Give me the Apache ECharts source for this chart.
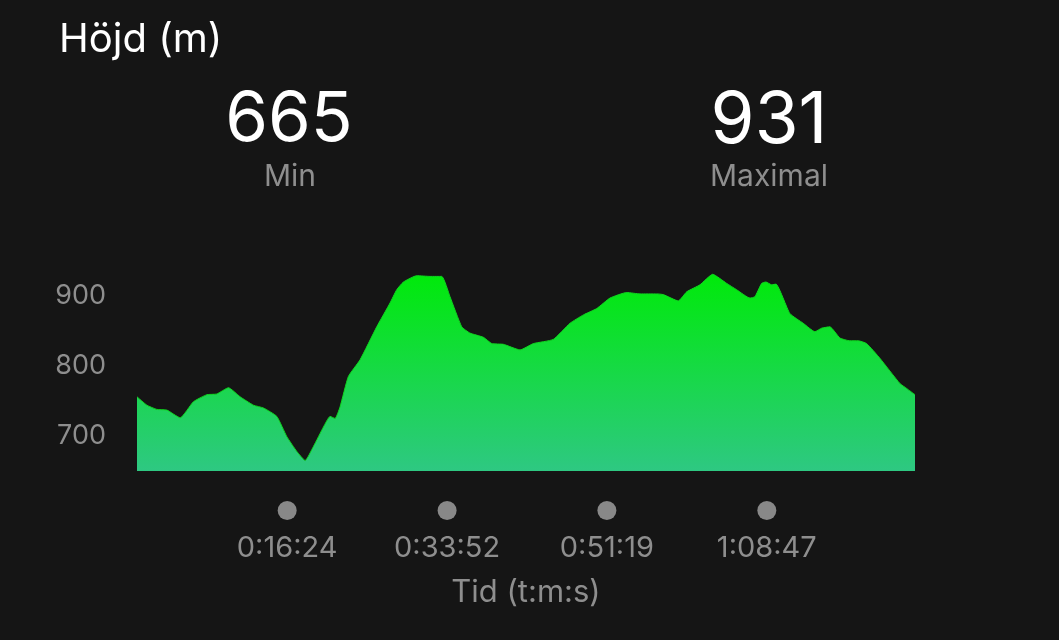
<!DOCTYPE html>
<html>
<head>
<meta charset="utf-8">
<script src="https://cdn.jsdelivr.net/npm/echarts@6/dist/echarts.min.js"></script>
<style>
html,body{margin:0;padding:0;background:#151515;}
#c{width:1059px;height:640px;}
</style>
</head>
<body>
<div id="c"></div>
<script>
// time in seconds from start
var timeSec = [0,65,130,196,283,370,458,523,599,676,763,829,916,982,1047,1102,1156,1222,1265,1298,1331,1385,1462,1571,1658,1702,1746,1833,1920,1997,2051,2128,2182,2270,2325,2401,2510,2597,2728,2837,2925,3012,3099,3209,3296,3405,3449,3547,3602,3689,3772,3864,3929,4017,4049,4093,4121,4159,4187,4278,4366,4442,4486,4540,4606,4671,4726,4781,4868,4999,5043,5098];
// elevation in metres
var elevation = [756,744,738,737,726,749,759,760,769,756,744,740,728,699,678,665,685,713,728,725,742,785,809,856,890,909,920,929,928,928,899,856,847,841,832,831,823,832,838,861,873,882,897,905,903,903,902,893,906,916,931,918,909,897,899,918,920,916,917,875,861,849,854,856,840,836,836,832,811,775,768,759];
var xTicks = [984,2032,3079,4127];
var yTicks = [700,800,900];
var titleText = 'Höjd (m)';
var minLabel = 'Min';
var maxLabel = 'Maximal';
var xName = 'Tid (t:m:s)';

function fmt(s){
  var h = Math.floor(s/3600), m = Math.floor((s%3600)/60), sec = Math.round(s%60);
  return h + ':' + (m<10?'0':'') + m + ':' + (sec<10?'0':'') + sec;
}
var data = timeSec.map(function(t,i){return [t, elevation[i]];});
var minV = Math.round(Math.min.apply(null, elevation));
var maxV = Math.round(Math.max.apply(null, elevation));
var FONT = 'Inter, Roboto, sans-serif';
var chart = echarts.init(document.getElementById('c'));
chart.setOption({
  backgroundColor: '#151515',
  animation: false,
  title: [
    {text: titleText, left: 54, top: 15, textStyle:{color:'#ffffff', fontSize:40, fontWeight:400, fontFamily:FONT}},
    {text: String(minV), left: 284, top: 81, textAlign:'center', textStyle:{color:'#ffffff', fontSize:69, fontWeight:400, fontFamily:FONT}},
    {text: minLabel, left: 285, top: 157, textAlign:'center', textStyle:{color:'#8e8e8e', fontSize:30, fontWeight:400, fontFamily:FONT}},
    {text: String(maxV), left: 764, top: 81, textAlign:'center', textStyle:{color:'#ffffff', fontSize:71, fontWeight:400, fontFamily:FONT}},
    {text: maxLabel, left: 764, top: 157, textAlign:'center', textStyle:{color:'#8e8e8e', fontSize:30, fontWeight:400, fontFamily:FONT}}
  ],
  grid: {left:137, right:144, top:261, bottom:169},
  xAxis: {
    type:'value', min:0, max:5098,
    splitLine:{show:false}, axisLine:{show:false}, axisTick:{show:false},
    name: xName, nameLocation:'middle', nameGap:106,
    nameTextStyle:{color:'#8e8e8e', fontSize:31, fontFamily:FONT},
    axisLabel:{
      customValues: xTicks, margin:30, showMinLabel:true, showMaxLabel:true,
      formatter:function(v){return '{dot|}\n{t|' + fmt(v) + '}';},
      rich:{
        dot:{width:19, height:19, borderRadius:9.5, backgroundColor:'#888888', align:'center'},
        t:{color:'#8e8e8e', fontSize:29, fontFamily:FONT, lineHeight:56, align:'center'}
      }
    }
  },
  yAxis: {
    type:'value', min:650, max:950,
    splitLine:{show:false}, axisLine:{show:false}, axisTick:{show:false},
    axisLabel:{customValues: yTicks, color:'#8e8e8e', fontSize:27, fontFamily:FONT, margin:31}
  },
  series: [{
    type:'line', data:data, symbol:'none', smooth:0.15,
    lineStyle:{width:1, color:'#0fd620'},
    areaStyle:{opacity:1, color:new echarts.graphic.LinearGradient(0,0,0,1,[
      {offset:0, color:'#00ea0a'},
      {offset:1, color:'#2ec882'}
    ])}
  }]
});
</script>
</body>
</html>
